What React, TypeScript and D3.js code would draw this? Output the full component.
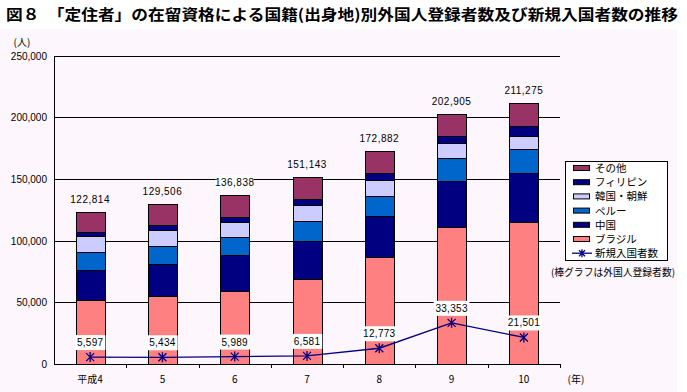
import React, { useEffect, useRef } from "react";
import * as d3 from "d3";

const years = ["平成4", "5", "6", "7", "8", "9", "10"];
const brazil = [51600, 54800, 58800, 69100, 87000, 111000, 115000];
const china = [24300, 26000, 29500, 30800, 33300, 37600, 39500];
const peru = [14600, 15000, 14300, 16200, 16200, 18600, 19800];
const korea = [13400, 13000, 12100, 12400, 12500, 11600, 10400];
const philippines = [2800, 3500, 4400, 4900, 5500, 5900, 8300];
const other = [16100, 17300, 17700, 17800, 18400, 18200, 18300];
const totals = [122814, 129506, 136838, 151143, 172882, 202905, 211275];
const newEntrants = [5597, 5434, 5989, 6581, 12773, 33353, 21501];
const yTicks = [0, 50000, 100000, 150000, 200000, 250000];

const TITLE = "図８　「定住者」の在留資格による国籍(出身地)別外国人登録者数及び新規入国者数の推移";
const JP = "'Noto Sans CJK JP', sans-serif";
const NUM = "'Liberation Sans', Arial, sans-serif";

const App: React.FC = () => {
  const svgRef = useRef<SVGSVGElement | null>(null);
  const width = 687;
  const height = 392;

  useEffect(() => {
    if (!svgRef.current) return;
    const svg = d3.select(svgRef.current);
    svg.selectAll("*").remove();

    // stacked series, bottom to top
    const series = [
      { name: "ブラジル", values: brazil, color: "#FF8080" },
      { name: "中国", values: china, color: "#000080" },
      { name: "ペルー", values: peru, color: "#0066CC" },
      { name: "韓国・朝鮮", values: korea, color: "#CCCCFF" },
      { name: "フィリピン", values: philippines, color: "#000080" },
      { name: "その他", values: other, color: "#993366" },
    ];

    const plot = { left: 54, right: 560, top: 55.5, bottom: 364 };

    const x = d3
      .scaleBand<string>()
      .domain(years)
      .range([plot.left, plot.right])
      .paddingInner(0.6)
      .paddingOuter(0.3);
    const y = d3.scaleLinear().domain([0, 250000]).range([plot.bottom, plot.top]);

    // backgrounds
    svg.append("rect").attr("width", width).attr("height", height).attr("fill", "#ffffff");
    svg.append("rect").attr("x", 0).attr("y", 29).attr("width", 677).attr("height", height - 29).attr("fill", "#FDF6FD");

    // title
    svg
      .append("text")
      .attr("x", 6)
      .attr("y", 20)
      .attr("font-family", JP)
      .attr("font-weight", "bold")
      .attr("font-size", 15)
      .attr("textLength", 672)
      .attr("lengthAdjust", "spacingAndGlyphs")
      .text(TITLE);

    // gridlines
    yTicks.forEach((t) => {
      svg
        .append("line")
        .attr("x1", plot.left)
        .attr("x2", plot.right)
        .attr("y1", Math.round(y(t)) + 0.5)
        .attr("y2", Math.round(y(t)) + 0.5)
        .attr("stroke", "#000")
        .attr("stroke-width", 1);
      svg
        .append("text")
        .attr("x", 47)
        .attr("y", y(t) + 4)
        .attr("text-anchor", "end")
        .attr("font-family", NUM)
        .attr("font-size", 10)
        .text(d3.format(",")(t));
    });
    svg
      .append("line")
      .attr("x1", plot.left + 0.5)
      .attr("x2", plot.left + 0.5)
      .attr("y1", Math.round(plot.top))
      .attr("y2", plot.bottom + 1)
      .attr("stroke", "#000");

    svg.append("text").attr("x", 22).attr("y", 46).attr("text-anchor", "middle").attr("font-family", JP).attr("font-size", 10).text("(人)");

    // category tick marks below axis
    const step = x.step();
    years.forEach((_, i) => {
      const bx = Math.round(plot.left + step * (i + 1)) + 0.5;
      svg.append("line").attr("x1", bx).attr("x2", bx).attr("y1", plot.bottom).attr("y2", plot.bottom + 4).attr("stroke", "#000");
    });

    // stacked bars
    const stackData = years.map((yr, i) => {
      const row: Record<string, number | string> = { year: yr };
      series.forEach((s) => (row[s.name] = s.values[i]));
      return row;
    });
    const stacked = d3.stack<Record<string, number | string>>().keys(series.map((s) => s.name))(stackData as any);

    stacked.forEach((layer, li) => {
      svg
        .append("g")
        .selectAll("rect")
        .data(layer)
        .join("rect")
        .attr("x", (d) => Math.round(x(d.data.year as string)!) + 0.5)
        .attr("y", (d) => Math.round(y(d[1])) + 0.5)
        .attr("width", Math.round(x.bandwidth()))
        .attr("height", (d) => Math.round(y(d[0])) - Math.round(y(d[1])))
        .attr("fill", series[li].color)
        .attr("stroke", "#000")
        .attr("stroke-width", 1);
    });

    // total labels
    const gridYs = yTicks.map((t) => y(t));
    totals.forEach((t, i) => {
      const cx = x(years[i])! + x.bandwidth() / 2;
      const cy = y(t) - 13;
      const label = d3.format(",")(t);
      const crosses = gridYs.some((g) => Math.abs(g - cy) < 7);
      if (crosses) {
        svg.append("rect").attr("x", cx - 19).attr("y", cy - 7).attr("width", 38).attr("height", 14).attr("fill", "#fff");
      }
      svg
        .append("text")
        .attr("x", cx)
        .attr("y", cy + 4)
        .attr("text-anchor", "middle")
        .attr("font-family", NUM)
        .attr("font-size", 10)
        .attr("letter-spacing", 0.5)
        .text(label);
    });

    // new entrants line
    const pts = newEntrants.map((v, i) => [x(years[i])! + x.bandwidth() / 2, y(v)] as [number, number]);
    svg
      .append("path")
      .attr("d", d3.line()(pts))
      .attr("fill", "none")
      .attr("stroke", "#000080")
      .attr("stroke-width", 1.3);

    const star = (g: d3.Selection<SVGGElement, unknown, null, undefined>, cx: number, cy: number, r: number) => {
      g.append("path")
        .attr("d", `M${cx - r},${cy - r}L${cx + r},${cy + r}M${cx - r},${cy + r}L${cx + r},${cy - r}M${cx},${cy - r - 1}L${cx},${cy + r + 1}`)
        .attr("stroke", "#000080")
        .attr("stroke-width", 1.3)
        .attr("fill", "none");
    };
    const markers = svg.append("g");
    pts.forEach(([px, py]) => star(markers, px, py, 4));

    pts.forEach(([px, py], i) => {
      const label = d3.format(",")(newEntrants[i]);
      const w = label.length * 5.3 + 4;
      svg.append("rect").attr("x", px - w / 2).attr("y", py - 22).attr("width", w).attr("height", 15).attr("fill", "#fff");
      svg
        .append("text")
        .attr("x", px)
        .attr("y", py - 11)
        .attr("text-anchor", "middle")
        .attr("font-family", NUM)
        .attr("font-size", 10)
        .attr("letter-spacing", 0.3)
        .text(label);
    });

    // x labels
    years.forEach((yr) => {
      svg
        .append("text")
        .attr("x", x(yr)! + x.bandwidth() / 2)
        .attr("y", 383)
        .attr("text-anchor", "middle")
        .attr("font-family", JP)
        .attr("font-size", 10)
        .text(yr);
    });
    svg.append("text").attr("x", 576).attr("y", 383).attr("text-anchor", "middle").attr("font-family", JP).attr("font-size", 10).text("(年)");

    // legend
    const legend = svg.append("g");
    legend.append("rect").attr("x", 565.5).attr("y", 161.5).attr("width", 102).attr("height", 99).attr("fill", "#fff").attr("stroke", "#000");
    const legendItems = [...series].reverse();
    legendItems.forEach((s, i) => {
      const ly = 168 + i * 14.2;
      legend.append("rect").attr("x", 573.5).attr("y", ly - 2.5).attr("width", 16).attr("height", 5).attr("fill", s.color).attr("stroke", "#000");
      legend.append("text").attr("x", 595).attr("y", ly + 4).attr("font-family", JP).attr("font-size", 10.5).text(s.name);
    });
    const ly = 168 + 6 * 14.2;
    legend.append("line").attr("x1", 572).attr("x2", 592).attr("y1", ly).attr("y2", ly).attr("stroke", "#000080").attr("stroke-width", 1.3);
    star(legend, 582, ly, 3);
    legend.append("text").attr("x", 595).attr("y", ly + 4).attr("font-family", JP).attr("font-size", 10.5).text("新規入国者数");

    svg
      .append("text")
      .attr("x", 551)
      .attr("y", 276)
      .attr("font-family", JP)
      .attr("font-size", 10)
      .attr("textLength", 124)
      .attr("lengthAdjust", "spacingAndGlyphs")
      .text("(棒グラフは外国人登録者数)");
  }, []);

  return <svg ref={svgRef} width={width} height={height} style={{ position: "absolute", left: 0, top: 0 }} />;
};

export default App;
